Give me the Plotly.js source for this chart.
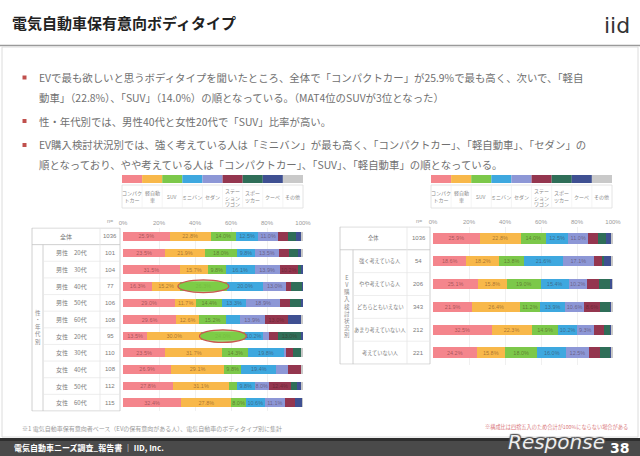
<!DOCTYPE html>
<html><head><meta charset="utf-8">
<script src="https://cdn.plot.ly/plotly-3.0.1.min.js"></script>
<style>html,body{margin:0;padding:0;background:#fff;}#chart{width:640px;height:456px;}</style>
</head><body><div id="chart"></div>
<script>
// ---- data ----
const seriesNames = ['コンパクトカー','軽自動車','SUV','ミニバン','セダン','ステーションワゴン','スポーツカー','クーペ','その他'];
const legendLabels = ['コンパク<br>トカー','軽自動<br>車','SUV','ミニバン','セダン','ステー<br>ション<br>ワゴン','スポー<br>ツカー','クーペ','その他'];
const xTicks = [0,20,40,60,80,100];
const xTickText = ['0%','20%','40%','60%','80%','100%'];

const leftRows = ['全体','男性　20代','男性　30代','男性　40代','男性　50代','男性　60代','女性　20代','女性　30代','女性　40代','女性　50代','女性　60代'];
const leftN = ['1036','101','104','77','106','108','95','110','108','112','115'];
const leftCompact = [25.9,23.5,31.5,16.3,29.0,29.6,13.5,23.5,26.9,27.8,32.4];
const leftKei     = [22.8,21.9,15.7,15.2,11.7,12.6,30.0,31.7,29.1,31.1,27.8];
const leftSUV     = [14.0,18.0, 9.8,26.3,14.4,15.2,24.0,14.3, 9.8, 4.4, 8.0];
const leftMinivan = [12.5, 9.8,16.1,20.0,13.3, 7.4,10.2,19.8,19.4, 9.8,10.6];
const leftSedan   = [11.0,13.5,13.9,13.0,18.9,13.9, 3.3, 1.1, 6.5, 8.0,11.1];
const leftWagon   = [ 5.5, 5.5,10.2, 2.8, 5.6,13.0, 5.0, 4.0, 7.4,12.4, 5.6];
const leftSports  = [ 4.5, 5.0, 1.5, 5.6, 6.1, 0.0,13.0, 4.6, 0.0, 3.0, 0.0];
const leftCoupe   = [ 2.5, 1.8, 1.3, 0.8, 1.0, 7.4, 1.0, 0.0, 0.0, 2.5, 3.7];
const leftOther   = [ 1.3, 1.0, 0.0, 0.0, 0.0, 0.9, 0.0, 1.0, 0.9, 1.0, 0.8];
const leftHighlightRows = [3,6];

const rightRows = ['全体','強く考えている人','やや考えている人','どちらともいえない','あまり考えていない人','考えていない人'];
const rightN = ['1036','54','206','343','212','221'];
const rightCompact = [25.9,18.6,25.1,21.9,32.5,24.2];
const rightKei     = [22.8,18.2,15.8,26.4,22.3,15.8];
const rightSUV     = [14.0,13.8,19.0,11.2,14.9,18.0];
const rightMinivan = [12.5,21.6,15.4,13.9,10.2,16.0];
const rightSedan   = [11.0,17.1,10.2,10.6, 9.3,12.5];
const rightWagon   = [ 5.5, 4.6, 6.5, 8.6, 5.6, 6.1];
const rightSports  = [ 4.5, 1.0, 6.5, 6.0, 3.7, 6.0];
const rightCoupe   = [ 2.5, 4.0, 1.0, 0.5, 0.5, 0.5];
const rightOther   = [ 1.3, 1.1, 0.5, 0.9, 1.0, 0.9];

// ---- styles ----
const colors = ['#f4858c','#f8b84a','#7cc84a','#3ea8df','#8d97d6','#94364f','#2f6e58','#3f5092','#c9c9c9'];
const JP = '"Noto Sans CJK JP", "Noto Sans", sans-serif';
const X = px => px/640, Y = py => 1 - py/456;

const leftSeries = [leftCompact,leftKei,leftSUV,leftMinivan,leftSedan,leftWagon,leftSports,leftCoupe,leftOther];
const rightSeries = [rightCompact,rightKei,rightSUV,rightMinivan,rightSedan,rightWagon,rightSports,rightCoupe,rightOther];

const traces = [];
function addTraces(series, rows, xa, ya, w){
  series.forEach((vals,i)=>{
    traces.push({type:'bar',orientation:'h',x:vals,y:rows,xaxis:xa,yaxis:ya,width:w,
      name:seriesNames[i],marker:{color:colors[i],line:{width:0}},
      text:vals.map(v=>v>=8?v.toFixed(1)+'%':''),textposition:'inside',insidetextanchor:'middle',
      constraintext:'none',textfont:{size:5.5,color:'rgba(60,20,20,0.45)',family:'Liberation Sans'},
      hoverinfo:'none',showlegend:false});
  });
}
addTraces(leftSeries,leftRows,'x','y',0.52);
addTraces(rightSeries,rightRows,'x2','y2',0.46);

const shapes = [], ann = [];
// header
shapes.push({type:'line',xref:'paper',yref:'paper',x0:0,x1:1,y0:Y(45.5),y1:Y(45.5),line:{color:'#9a9a9a',width:1.5}});
shapes.push({type:'rect',xref:'paper',yref:'paper',x0:X(2),x1:X(638),y0:Y(437),y1:Y(47),line:{color:'#dcdcdc',width:1},fillcolor:'rgba(0,0,0,0)'});
ann.push({xref:'paper',yref:'paper',x:X(10),y:Y(22),xanchor:'left',yanchor:'middle',showarrow:false,
  text:'<b>電気自動車保有意向ボディタイプ</b>',font:{size:15,family:JP,color:'#222'}});
ann.push({xref:'paper',yref:'paper',x:X(602),y:Y(25),xanchor:'left',yanchor:'middle',showarrow:false,
  text:'iid',font:{size:22,family:'DejaVu Sans',color:'#333'}});
// bullets
const bulletLines = [
  [77.5,true,'EVで最も欲しいと思うボディタイプを聞いたところ、全体で「コンパクトカー」が25.9%で最も高く、次いで、「軽自'],
  [97,false,'動車」（22.8%）、「SUV」（14.0%）の順となっている。（MAT4位のSUVが3位となった）'],
  [121,true,'性・年代別では、男性40代と女性20代で「SUV」比率が高い。'],
  [145,true,'EV購入検討状況別では、強く考えている人は「ミニバン」が最も高く、「コンパクトカー」、「軽自動車」、「セダン」の'],
  [164.5,false,'順となっており、やや考えている人は「コンパクトカー」、「SUV」、「軽自動車」の順となっている。']
];
bulletLines.forEach(([py,b,t])=>{
  if(b) shapes.push({type:'rect',xref:'paper',yref:'paper',x0:X(22.5),x1:X(26.5),y0:Y(py+2),y1:Y(py-2),line:{width:0},fillcolor:'#c0504d'});
  ann.push({xref:'paper',yref:'paper',x:X(37),y:Y(py),xanchor:'left',yanchor:'middle',showarrow:false,text:t,
    font:{size:10.4,family:JP,color:'#707070'}});
});

// legend strips and table
function legendStrip(x0px, x1px){
  const w = (x1px-x0px)/seriesNames.length;
  shapes.push({type:'rect',xref:'paper',yref:'paper',x0:X(x0px),x1:X(x1px),y0:Y(208),y1:Y(185),line:{color:'#dddddd',width:0.8},fillcolor:'rgba(0,0,0,0)'});
  seriesNames.forEach((n,i)=>{
    shapes.push({type:'rect',xref:'paper',yref:'paper',x0:X(x0px+i*w),x1:X(x0px+(i+1)*w),y0:Y(183),y1:Y(175),line:{width:0},fillcolor:colors[i]});
    if(i>0) shapes.push({type:'line',xref:'paper',yref:'paper',x0:X(x0px+i*w),x1:X(x0px+i*w),y0:Y(208),y1:Y(185),line:{color:'#eeeeee',width:0.6}});
    ann.push({xref:'paper',yref:'paper',x:X(x0px+(i+0.5)*w),y:Y(196.5),xanchor:'center',yanchor:'middle',showarrow:false,
      text:legendLabels[i],font:{size:5,family:JP,color:'#8a8a8a'}});
  });
}
legendStrip(122,303);
legendStrip(431,612);

function table(rows, nVals, ya, xL, xSide, xLab, xN, sideText, fs){
  const g = '#c4c4c4', lite = '#e6e6e6', last = rows.length-0.5;
  shapes.push({type:'rect',xref:'paper',yref:ya,x0:X(xL),x1:X(xN),y0:-0.5,y1:last,line:{color:g,width:0.8},fillcolor:'rgba(0,0,0,0)'});
  shapes.push({type:'line',xref:'paper',yref:ya,x0:X(xL),x1:X(xN),y0:0.5,y1:0.5,line:{color:g,width:0.8}});
  shapes.push({type:'line',xref:'paper',yref:ya,x0:X(xSide),x1:X(xSide),y0:0.5,y1:last,line:{color:g,width:0.8}});
  shapes.push({type:'line',xref:'paper',yref:ya,x0:X(xLab),x1:X(xLab),y0:-0.5,y1:last,line:{color:lite,width:0.8}});
  for(let i=1;i<rows.length-1;i++)
    shapes.push({type:'line',xref:'paper',yref:ya,x0:X(xSide),x1:X(xN),y0:i+0.5,y1:i+0.5,line:{color:lite,width:0.7}});
  rows.forEach((r,i)=>{
    const cx = i===0 ? (xL+xLab)/2 : (xSide+xLab)/2;
    ann.push({xref:'paper',yref:ya,x:X(cx),y:i,xanchor:'center',yanchor:'middle',showarrow:false,text:r,font:{size:fs,family:JP,color:'#7a7a7a'}});
    ann.push({xref:'paper',yref:ya,x:X((xLab+xN)/2),y:i,xanchor:'center',yanchor:'middle',showarrow:false,text:nVals[i],font:{size:6,family:'Liberation Sans',color:'#7a7a7a'}});
  });
  ann.push({xref:'paper',yref:ya,x:X((xL+xSide)/2),y:(rows.length)/2,xanchor:'center',yanchor:'middle',showarrow:false,text:sideText,font:{size:5.5,family:JP,color:'#8a8a8a'}});
  ann.push({xref:'paper',yref:'paper',x:X((xLab+xN)/2),y:Y(221),xanchor:'center',yanchor:'middle',showarrow:false,text:'n=',font:{size:5.5,family:'Liberation Sans',color:'#999'}});
}
table(leftRows,leftN,'y',32,43,100,120,'性<br>・<br>年<br>代<br>別',6);
table(rightRows,rightN,'y2',340,353,407,430,'E<br>V<br>購<br>入<br>検<br>討<br>状<br>況<br>別',5.2);

// highlight ellipses (SUV segment) from data
leftHighlightRows.forEach(r=>{
  const s = leftCompact[r]+leftKei[r], e = s+leftSUV[r];
  shapes.push({type:'circle',xref:'x',yref:'y',x0:s-1,x1:e+1,y0:r-0.38,y1:r+0.38,layer:'above',
    line:{color:'#c9574f',width:1.2},fillcolor:'rgba(125,205,70,0.75)'});
});

// footnotes
ann.push({xref:'paper',yref:'paper',x:X(20),y:Y(428),xanchor:'left',yanchor:'middle',showarrow:false,
  text:'※1 電気自動車保有意向者ベース（EVの保有意向がある人）、電気自動車のボディタイプ別に集計',font:{size:6,family:JP,color:'#9a9a9a'}});
ann.push({xref:'paper',yref:'paper',x:X(630),y:Y(427),xanchor:'right',yanchor:'middle',showarrow:false,
  text:'※構成比は四捨五入のため合計が100%にならない場合がある',font:{size:5.2,family:JP,color:'#d9777b'}});

// footer
shapes.push({type:'rect',xref:'paper',yref:'paper',x0:0,x1:1,y0:0,y1:Y(438),line:{width:0},fillcolor:'#4a4a4a'});
shapes.push({type:'rect',xref:'paper',yref:'paper',x0:0,x1:1,y0:Y(441),y1:Y(438),line:{width:0},fillcolor:'#2e2e2e'});
ann.push({xref:'paper',yref:'paper',x:X(12),y:Y(447.5),xanchor:'left',yanchor:'middle',showarrow:false,
  text:'<b>電気自動車ニーズ調査_報告書 ｜ IID, Inc.</b>',font:{size:8,family:JP,color:'#ffffff'}});
ann.push({xref:'paper',yref:'paper',x:X(631),y:Y(448),xanchor:'right',yanchor:'middle',showarrow:false,
  text:'<b>38</b>',font:{size:14,family:'DejaVu Sans',color:'#ffffff'}});
ann.push({xref:'paper',yref:'paper',x:X(556),y:Y(442),xanchor:'center',yanchor:'middle',showarrow:false,
  text:'<i>Response</i>',font:{size:20,family:'DejaVu Sans',color:'rgba(255,255,255,0.92)',shadow:'1px 1px 1px #555, -1px -1px 1px #555, 1px -1px 1px #555, -1px 1px 1px #555'}});

const axX = d => ({domain:d,range:[0,100],side:'top',tickmode:'array',tickvals:xTicks,ticktext:xTickText,ticks:'',
  tickfont:{size:6,family:'Liberation Sans',color:'#9a9a9a'},showgrid:true,gridcolor:'#f0f0f0',zeroline:false,showline:false,fixedrange:true});
const axY = d => ({domain:d,type:'category',autorange:'reversed',showticklabels:false,showgrid:false,zeroline:false,ticks:'',fixedrange:true});

const layout = {
  width:640,height:456,margin:{l:0,r:0,t:0,b:0},paper_bgcolor:'#ffffff',plot_bgcolor:'rgba(0,0,0,0)',
  barmode:'stack',showlegend:false,
  xaxis:Object.assign(axX([X(123),X(303)]),{anchor:'y'}),
  yaxis:Object.assign(axY([Y(411.4),Y(227.6)]),{anchor:'x'}),
  xaxis2:Object.assign(axX([X(433),X(613)]),{anchor:'y2'}),
  yaxis2:Object.assign(axY([Y(364.5),Y(226.5)]),{anchor:'x2'}),
  shapes:shapes,annotations:ann
};
Plotly.newPlot('chart',traces,layout,{staticPlot:true,displayModeBar:false});
</script></body></html>
